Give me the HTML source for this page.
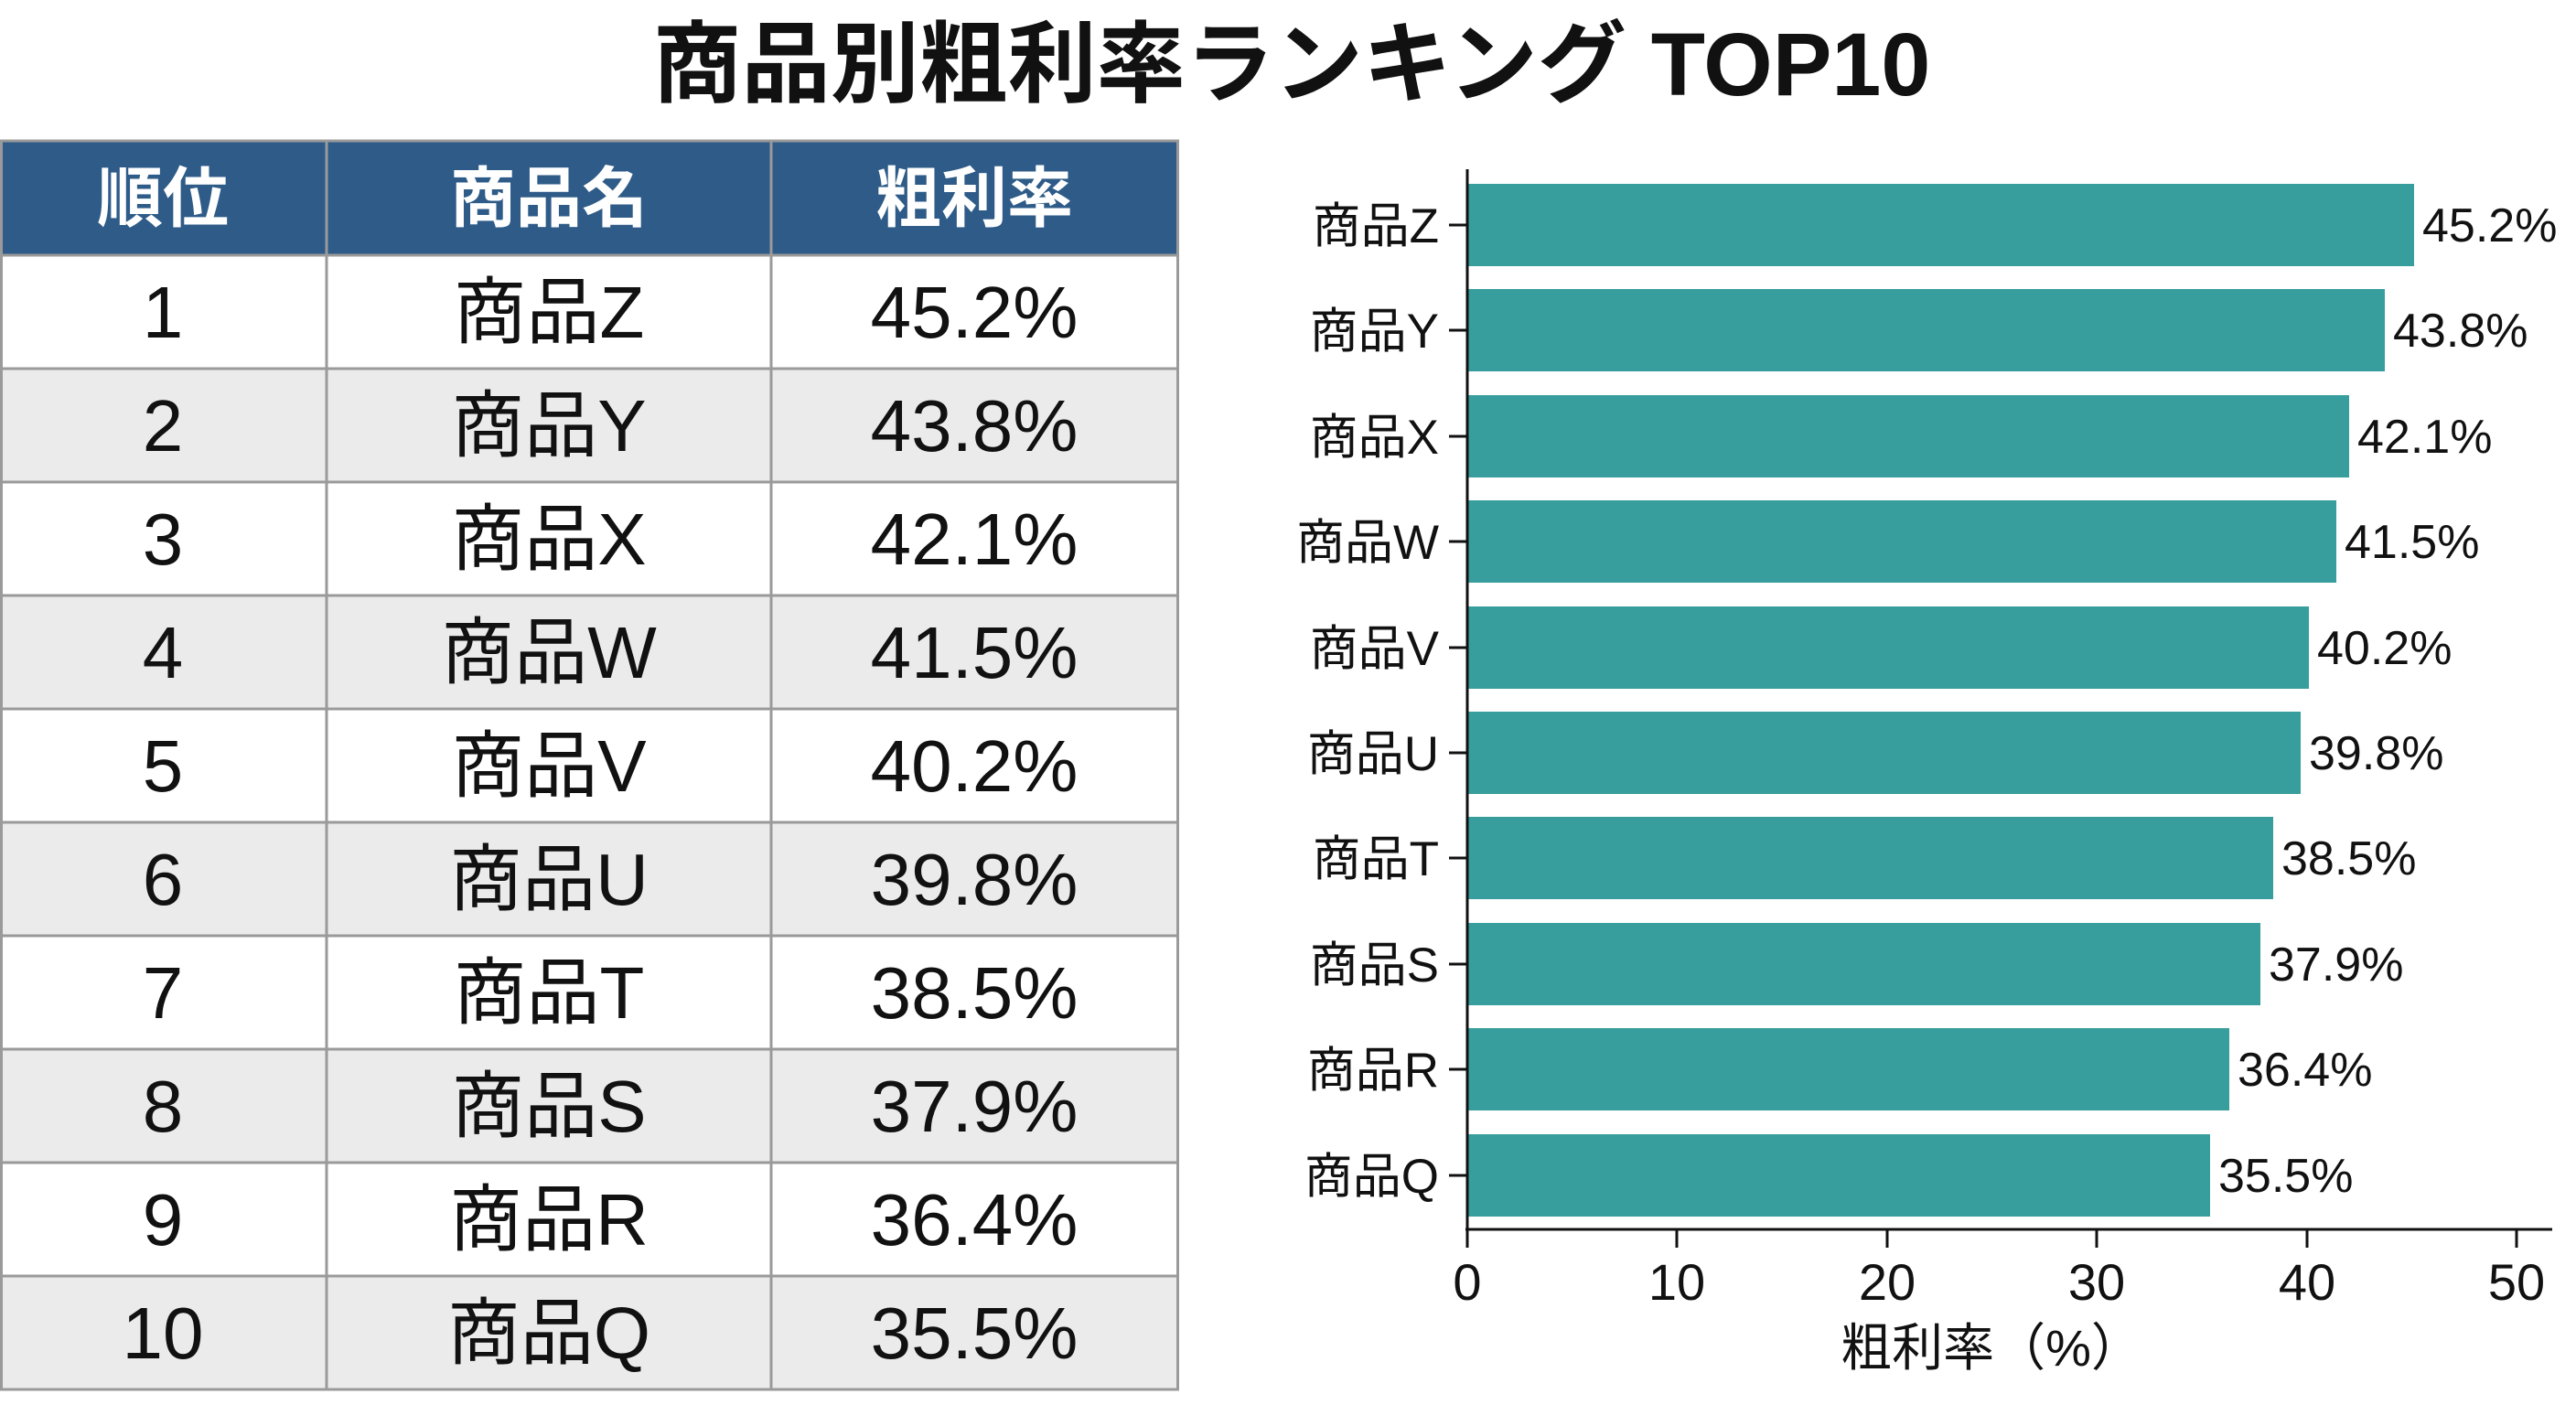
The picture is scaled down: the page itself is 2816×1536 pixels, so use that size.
<!DOCTYPE html>
<html><head><meta charset="utf-8"><style>
html,body{margin:0;padding:0;background:#fff;}
svg{display:block;}
text{font-family:"Liberation Sans","Noto Sans CJK JP",sans-serif;}
</style></head><body>
<svg width="2816" height="1536" viewBox="0 0 2816 1536" xmlns="http://www.w3.org/2000/svg">
<rect width="2816" height="1536" fill="#fff"/>
<text x="1412" y="104" font-size="97" font-weight="bold" text-anchor="middle" fill="#111">商品別粗利率ランキング TOP10</text>
<!-- table -->
<rect x="0" y="154" width="1288" height="125" fill="#2e5b88"/>
<g fill="#ebebeb">
<rect x="0" y="403" width="1288" height="124"/>
<rect x="0" y="651" width="1288" height="124"/>
<rect x="0" y="899" width="1288" height="124"/>
<rect x="0" y="1147" width="1288" height="124"/>
<rect x="0" y="1395" width="1288" height="124"/>
</g>
<g stroke="#9a9a9a" stroke-width="3" fill="none">
<rect x="1.5" y="154" width="1286" height="1365"/>
<line x1="357" y1="154" x2="357" y2="1519"/>
<line x1="843" y1="154" x2="843" y2="1519"/>
<line x1="0" y1="279" x2="1288" y2="279"/>
<line x1="0" y1="403" x2="1288" y2="403"/>
<line x1="0" y1="527" x2="1288" y2="527"/>
<line x1="0" y1="651" x2="1288" y2="651"/>
<line x1="0" y1="775" x2="1288" y2="775"/>
<line x1="0" y1="899" x2="1288" y2="899"/>
<line x1="0" y1="1023" x2="1288" y2="1023"/>
<line x1="0" y1="1147" x2="1288" y2="1147"/>
<line x1="0" y1="1271" x2="1288" y2="1271"/>
<line x1="0" y1="1395" x2="1288" y2="1395"/>
</g>
<g font-size="72" font-weight="bold" fill="#fff" text-anchor="middle">
<text x="178" y="242">順位</text><text x="600" y="242">商品名</text><text x="1065" y="242">粗利率</text>
</g>
<g font-size="80" fill="#111" text-anchor="middle">
<text x="178" y="369">1</text><text x="600" y="369">商品Z</text><text x="1065" y="369">45.2%</text>
<text x="178" y="493">2</text><text x="600" y="493">商品Y</text><text x="1065" y="493">43.8%</text>
<text x="178" y="617">3</text><text x="600" y="617">商品X</text><text x="1065" y="617">42.1%</text>
<text x="178" y="741">4</text><text x="600" y="741">商品W</text><text x="1065" y="741">41.5%</text>
<text x="178" y="865">5</text><text x="600" y="865">商品V</text><text x="1065" y="865">40.2%</text>
<text x="178" y="989">6</text><text x="600" y="989">商品U</text><text x="1065" y="989">39.8%</text>
<text x="178" y="1113">7</text><text x="600" y="1113">商品T</text><text x="1065" y="1113">38.5%</text>
<text x="178" y="1237">8</text><text x="600" y="1237">商品S</text><text x="1065" y="1237">37.9%</text>
<text x="178" y="1361">9</text><text x="600" y="1361">商品R</text><text x="1065" y="1361">36.4%</text>
<text x="178" y="1485">10</text><text x="600" y="1485">商品Q</text><text x="1065" y="1485">35.5%</text>
</g>
<!-- chart -->
<g fill="#379d9d">
<rect x="1604" y="201" width="1035" height="90"/>
<rect x="1604" y="316" width="1003" height="90"/>
<rect x="1604" y="432" width="964" height="90"/>
<rect x="1604" y="547" width="950" height="90"/>
<rect x="1604" y="663" width="920" height="90"/>
<rect x="1604" y="778" width="911" height="90"/>
<rect x="1604" y="893" width="881" height="90"/>
<rect x="1604" y="1009" width="867" height="90"/>
<rect x="1604" y="1124" width="833" height="90"/>
<rect x="1604" y="1240" width="812" height="90"/>
</g>
<g font-size="52" fill="#111">
<text x="2648" y="264">45.2%</text>
<text x="2616" y="379">43.8%</text>
<text x="2577" y="495">42.1%</text>
<text x="2563" y="610">41.5%</text>
<text x="2533" y="726">40.2%</text>
<text x="2524" y="841">39.8%</text>
<text x="2494" y="956">38.5%</text>
<text x="2480" y="1072">37.9%</text>
<text x="2446" y="1187">36.4%</text>
<text x="2425" y="1303">35.5%</text>
</g>
<g font-size="53" fill="#111" text-anchor="end">
<text x="1573" y="265">商品Z</text>
<text x="1573" y="380">商品Y</text>
<text x="1573" y="496">商品X</text>
<text x="1573" y="611">商品W</text>
<text x="1573" y="727">商品V</text>
<text x="1573" y="842">商品U</text>
<text x="1573" y="957">商品T</text>
<text x="1573" y="1073">商品S</text>
<text x="1573" y="1188">商品R</text>
<text x="1573" y="1304">商品Q</text>
</g>
<g stroke="#111" stroke-width="3">
<line x1="1604" y1="185" x2="1604" y2="1345"/>
<line x1="1602" y1="1344" x2="2790" y2="1344"/>
<line x1="1584" y1="246" x2="1604" y2="246"/>
<line x1="1584" y1="361" x2="1604" y2="361"/>
<line x1="1584" y1="477" x2="1604" y2="477"/>
<line x1="1584" y1="592" x2="1604" y2="592"/>
<line x1="1584" y1="708" x2="1604" y2="708"/>
<line x1="1584" y1="823" x2="1604" y2="823"/>
<line x1="1584" y1="938" x2="1604" y2="938"/>
<line x1="1584" y1="1054" x2="1604" y2="1054"/>
<line x1="1584" y1="1169" x2="1604" y2="1169"/>
<line x1="1584" y1="1285" x2="1604" y2="1285"/>
<line x1="1604" y1="1344" x2="1604" y2="1364"/>
<line x1="1833" y1="1344" x2="1833" y2="1364"/>
<line x1="2063" y1="1344" x2="2063" y2="1364"/>
<line x1="2292" y1="1344" x2="2292" y2="1364"/>
<line x1="2522" y1="1344" x2="2522" y2="1364"/>
<line x1="2751" y1="1344" x2="2751" y2="1364"/>
</g>
<g font-size="56" fill="#111" text-anchor="middle">
<text x="1604" y="1421">0</text>
<text x="1833" y="1421">10</text>
<text x="2063" y="1421">20</text>
<text x="2292" y="1421">30</text>
<text x="2522" y="1421">40</text>
<text x="2751" y="1421">50</text>
</g>
<text x="2177" y="1493" font-size="56" fill="#111" text-anchor="middle">粗利率（%）</text>
</svg>
</body></html>
